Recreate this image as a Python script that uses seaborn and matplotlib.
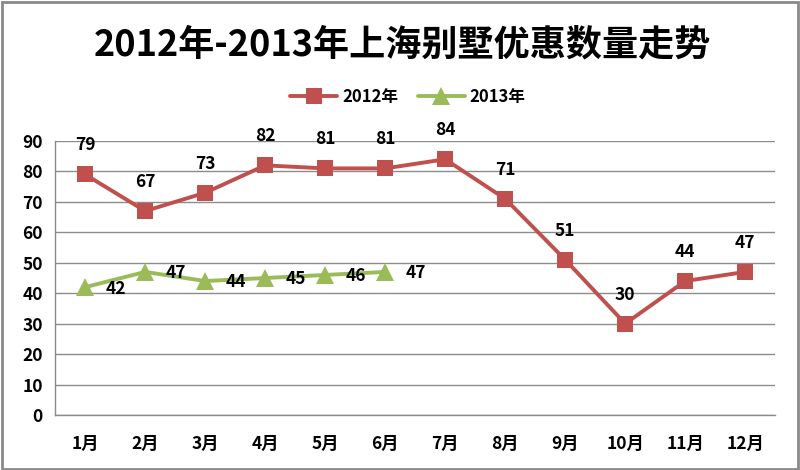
import numpy as np
import pandas as pd
import matplotlib
matplotlib.use("Agg")
import matplotlib.pyplot as plt
from matplotlib.patches import Rectangle
from matplotlib.ticker import FixedLocator
import seaborn as sns

months = ["1月", "2月", "3月", "4月", "5月", "6月", "7月", "8月", "9月", "10月", "11月", "12月"]
v2012 = [79, 67, 73, 82, 81, 81, 84, 71, 51, 30, 44, 47]
v2013 = [42, 47, 44, 45, 46, 47]
series_names = ["2012年", "2013年"]
title = "2012年-2013年上海别墅优惠数量走势"

sns.set_theme(style="white")
plt.rcParams['font.family'] = ['Noto Sans CJK SC', 'DejaVu Sans']
plt.rcParams['font.weight'] = 'bold'
plt.rcParams['text.color'] = 'black'

red = "#C0504D"
green = "#9BBB59"
grid_c = "#8C8C8C"

df12 = pd.DataFrame({"pos": np.arange(len(v2012)), "val": v2012})
df13 = pd.DataFrame({"pos": np.arange(len(v2013)), "val": v2013})

fig = plt.figure(figsize=(8, 4.7), dpi=100)
ax = fig.add_axes([0.069, 0.117, 0.9, 0.583])

sns.lineplot(data=df12, x="pos", y="val", ax=ax, color=red, lw=2.8,
             marker="s", markersize=12, markeredgewidth=0, label=series_names[0])
sns.lineplot(data=df13, x="pos", y="val", ax=ax, color=green, lw=2.8,
             marker="^", markersize=13, markeredgewidth=0, label=series_names[1])

ax.set_xlim(-0.5, len(months) - 0.5)
ax.set_ylim(0, 90)
ax.set_yticks(np.arange(0, 91, 10))
ax.set_xticks(np.arange(len(months)))
ax.set_xticklabels(months)
ax.xaxis.set_minor_locator(FixedLocator(np.arange(-0.5, len(months), 1)))
ax.tick_params(axis="x", which="major", length=0, pad=14, labelsize=12.5, labelcolor="black")
ax.tick_params(axis="x", which="minor", length=6, color=grid_c, width=1, direction="out")
ax.tick_params(axis="y", length=5, color=grid_c, width=1, direction="out", labelsize=12.5,
               pad=4, labelcolor="black")
for lab in ax.get_xticklabels() + ax.get_yticklabels():
    lab.set_fontweight("bold")
ax.set_xlabel("")
ax.set_ylabel("")
ax.yaxis.grid(True, color=grid_c, lw=1)
ax.set_axisbelow(True)
for s in ["top", "right"]:
    ax.spines[s].set_visible(False)
for s in ["left", "bottom"]:
    ax.spines[s].set_color(grid_c)
    ax.spines[s].set_linewidth(1)

for i, v in enumerate(v2012):
    ax.annotate(str(v), (i, v), xytext=(0, 21), textcoords="offset points",
                ha="center", va="center", fontsize=12.5, fontweight="bold", color="black",
                annotation_clip=False)
for i, v in enumerate(v2013):
    ax.annotate(str(v), (i, v), xytext=(22, -1), textcoords="offset points",
                ha="center", va="center", fontsize=12.5, fontweight="bold", color="black",
                annotation_clip=False)

ax.legend(loc="center", bbox_to_anchor=(0.51, 0.794), bbox_transform=fig.transFigure,
          ncol=2, frameon=False, handlelength=2.8, columnspacing=1.2,
          handletextpad=0.3, prop={'weight': 'bold', 'size': 12})

fig.text(0.503, 0.905, title, ha="center", va="center", fontsize=26, fontweight="bold",
         color="black")

fig.patches.append(Rectangle((0.002, 0.003), 0.995, 0.993, transform=fig.transFigure,
                             fill=False, edgecolor="#8A8A8A", lw=2))

fig.savefig("out.png", dpi=100)
